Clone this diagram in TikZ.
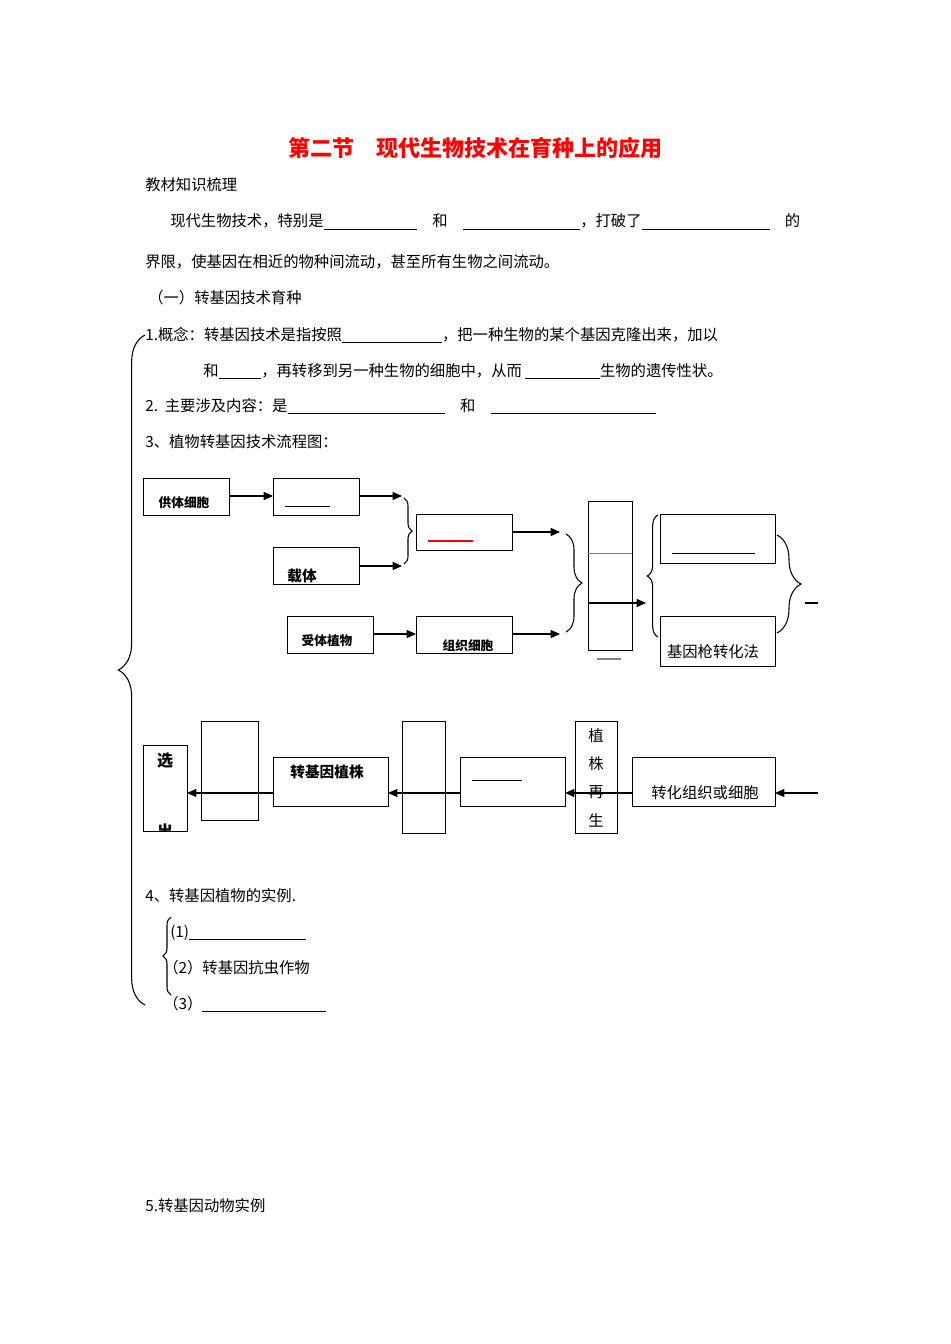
\documentclass[tikz,border=0pt]{standalone}
\usepackage{fontspec}
\setmainfont{Noto Sans CJK SC}
\usetikzlibrary{arrows.meta,decorations.pathreplacing}
\begin{document}
\begin{tikzpicture}[x=0.75pt,y=-0.75pt,
  txt/.style={anchor=base west,inner sep=0,font=\fontsize{11.5}{13}\selectfont},
  bx/.style={draw,thick,inner sep=0,anchor=north west},
  sm/.style={inner sep=0,font=\bfseries\fontsize{9.5}{11}\selectfont},
  ar/.style={thick,-{Triangle[length=7pt,width=6pt]}},
  br/.style={thick,decorate,decoration={brace,amplitude=#1}},
  ul/.style={thin}]
\useasboundingbox[fill=white] (0,0) rectangle (950,1344);
\node[anchor=base,inner sep=0,text=red,font=\bfseries\fontsize{16.5}{18}\selectfont] (title) at (475,157) {第二节\quad 现代生物技术在育种上的应用};
\node[txt] (t1) at (145,191) {教材知识梳理};
\node[txt] (t2) at (170,227) {现代生物技术，特别是\rule[-2pt]{70pt}{0.5pt}\quad 和\quad \rule[-2pt]{88pt}{0.5pt}，打破了\rule[-2pt]{96pt}{0.5pt}\quad 的};
\node[txt] (t3) at (145,268) {界限，使基因在相近的物种间流动，甚至所有生物之间流动。};
\node[txt] (t4) at (148,304) {（一）转基因技术育种};
\node[txt] (t5) at (145,340) {1.概念：转基因技术是指按照\rule[-2pt]{75pt}{0.5pt}，把一种生物的某个基因克隆出来，加以};
\node[txt] (t6) at (203,376) {和\rule[-2pt]{32pt}{0.5pt}，再转移到另一种生物的细胞中，从而 \rule[-2pt]{56pt}{0.5pt}生物的遗传性状。};
\node[txt] (t7) at (145,411) {2.\ \ 主要涉及内容：是\rule[-2pt]{118pt}{0.5pt}\quad 和\quad \rule[-2pt]{124pt}{0.5pt}};
\node[txt] (t8) at (145,447) {3、植物转基因技术流程图：};
\coordinate (bb1) at (145,1005); \coordinate (bb2) at (145,335);
\draw[br=20pt] (bb1) -- (bb2);
% top flow
\node[bx,minimum width=86*0.75pt,minimum height=37*0.75pt] (a) at (143,478) {};
\node[sm] (al) at (184,503) {供体细胞};
\node[bx,minimum width=86*0.75pt,minimum height=37*0.75pt] (b) at (273,478) {};
\draw[ul] (285,506) -- (330,506);
\node[bx,minimum width=86*0.75pt,minimum height=37*0.75pt] (c) at (273,547) {};
\node[inner sep=0,font=\bfseries\fontsize{11}{13}\selectfont] (cl) at (302,576) {载体};
\coordinate (b1) at (402,496); \coordinate (c1) at (402,566);
\draw[ar] (229,496) -- (273,496);
\draw[ar] (359,496) -- (b1);
\draw[ar] (359,566) -- (c1);
\draw[br=6pt] (404,498) -- (404,564);
\node[bx,minimum width=96*0.75pt,minimum height=36*0.75pt] (d) at (416,514) {};
\draw[red,line width=0.9pt] (428,541) -- (473,541);
\draw[ar] (512,532) -- (560,532);
\node[bx,minimum width=86*0.75pt,minimum height=37*0.75pt] (e) at (287,616) {};
\node[sm] (el) at (327,641) {受体植物};
\node[bx,minimum width=96*0.75pt,minimum height=37*0.75pt] (f) at (416,616) {};
\node[sm] (fl) at (468,646) {组织细胞};
\draw[ar] (373,634) -- (416,634);
\draw[ar] (512,634) -- (560,634);
\draw[br=12pt] (566,534) -- (566,632);
\node[bx,minimum width=44*0.75pt,minimum height=149*0.75pt] (g) at (588,501) {};
\draw[gray] (588,553) -- (632,553);
\draw[thick] (588,603) -- (632,603);
\draw[ar] (632,603) -- (646,603);
\draw[gray,thick] (597,659) -- (621,659);
\draw[br=8pt] (658,637) -- (658,515);
\node[bx,minimum width=115*0.75pt,minimum height=49*0.75pt] (h) at (660,514) {};
\draw[ul] (672,553) -- (755,553);
\node[bx,minimum width=115*0.75pt,minimum height=50*0.75pt] (i) at (660,616) {};
\node[inner sep=0,font=\fontsize{11.5}{13}\selectfont] (il) at (713,652) {基因枪转化法};
\draw[br=18pt] (777,535) -- (777,633);
\draw[thick] (805,603) -- (818,603);
% bottom flow
\coordinate (rstart) at (818,793);
\node[bx,minimum width=143*0.75pt,minimum height=49*0.75pt] (j) at (632,757) {};
\node[inner sep=0,font=\fontsize{11.5}{13}\selectfont] (jl) at (705,793) {转化组织或细胞};
\draw[ar] (rstart) -- (775,793);
\node[bx,minimum width=42*0.75pt,minimum height=112*0.75pt] (k) at (575,721) {};
\foreach \c/\yy in {植/736,株/764,再/792,生/820} \node[inner sep=0,font=\fontsize{11.5}{13}\selectfont] at (596,\yy) {\c};
\node[bx,minimum width=105*0.75pt,minimum height=49*0.75pt] (l) at (460,757) {};
\draw[ul] (472,780) -- (522,780);
\draw[ar] (632,793) -- (565,793);
\node[bx,minimum width=43*0.75pt,minimum height=112*0.75pt] (m) at (402,721) {};
\node[bx,minimum width=115*0.75pt,minimum height=49*0.75pt] (n) at (273,757) {};
\node[inner sep=0,font=\bfseries\fontsize{11}{13}\selectfont] (nl) at (327,772) {转基因植株};
\draw[ar] (460,793) -- (388,793);
\node[bx,minimum width=57*0.75pt,minimum height=99*0.75pt] (o) at (201,721) {};
\draw[red!60,thick] (213,793) -- (230,793);
\node[bx,minimum width=44*0.75pt,minimum height=86*0.75pt] (p) at (143,745) {};
\draw[ar] (273,793) -- (187,793);
\node[inner sep=0,font=\bfseries\fontsize{12}{14}\selectfont] (pl) at (165,761) {选};
\begin{scope}
\clip (144,815) rectangle (186,830);
\node[inner sep=0,font=\bfseries\fontsize{12}{14}\selectfont] (pl2) at (165,831) {出};
\end{scope}
% section 4
\node[txt] (t9) at (145,901) {4、转基因植物的实例.};
\draw[br=6pt] (171,995) -- (171,917);
\node[txt] (t10) at (170,937) {(1)\rule[-2pt]{88pt}{0.5pt}};
\node[txt] (t11) at (163,973) {（2）转基因抗虫作物};
\node[txt] (t12) at (163,1009) {（3）\rule[-2pt]{93pt}{0.5pt}};
\node[txt] (t13) at (145,1211) {5.转基因动物实例};
\end{tikzpicture}
\end{document}
